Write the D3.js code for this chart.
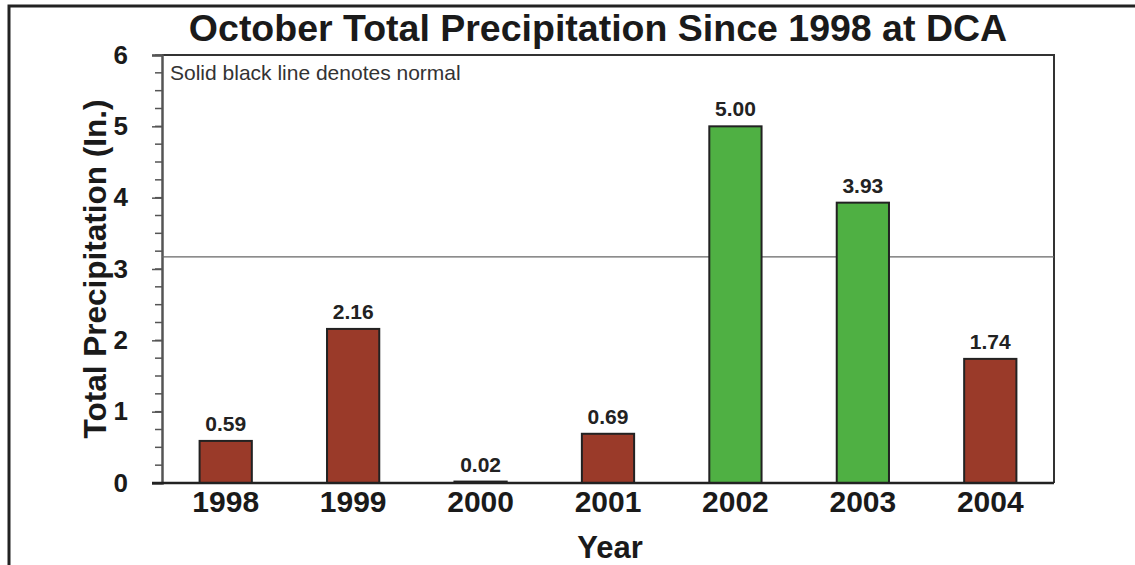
<!DOCTYPE html>
<html><head><meta charset="utf-8">
<script src="https://cdn.jsdelivr.net/npm/d3@7"></script>
<style>body{margin:0;background:#fff}svg{display:block}text{font-family:"Liberation Sans",Arial,sans-serif}</style>
</head><body><svg id="c" width="1135" height="565"></svg>
<script>
const years = ["1998","1999","2000","2001","2002","2003","2004"];
const precip = [0.59, 2.16, 0.02, 0.69, 5.00, 3.93, 1.74];
const normal = 3.17;
const yTicks = [0,1,2,3,4,5,6];
const title = "October Total Precipitation Since 1998 at DCA";
const note = "Solid black line denotes normal";

const svg = d3.select("#c");
const m = {l:162, r:1054, t:55, b:483};
const x = d3.scaleBand().domain(years).range([m.l,m.r]).paddingInner(0.59).paddingOuter(0.295);
const y = d3.scaleLinear().domain([0,6]).range([m.b,m.t]);

// outer frame
svg.append("path").attr("d","M9,565 L9,6 L1135,6").attr("fill","none").attr("stroke","#222").attr("stroke-width",3);

svg.append("text").attr("x",598).attr("y",41).attr("text-anchor","middle")
  .attr("font-size",37.5).attr("font-weight","bold").attr("fill","#1a1a1a").text(title);

// plot frame
svg.append("path").attr("d",`M${m.l},${m.t} L${m.r},${m.t} L${m.r},${m.b}`).attr("fill","none").attr("stroke","#333").attr("stroke-width",2);

// minor ticks
const minor = d3.range(0,6.01,0.25);
svg.append("g").selectAll("line").data(minor).join("line")
  .attr("x1",m.l-7).attr("x2",m.l).attr("y1",d=>y(d)).attr("y2",d=>y(d)).attr("stroke","#555").attr("stroke-width",1.5);
const yAxis = d3.axisLeft(y).tickValues(yTicks).tickFormat(d3.format("d")).tickSize(10).tickPadding(24);
const ga = svg.append("g").attr("transform",`translate(${m.l},0)`).call(yAxis);
ga.select(".domain").attr("stroke","#555").attr("stroke-width",2.5);
ga.selectAll(".tick line").attr("stroke","#555").attr("stroke-width",1.5);
ga.selectAll(".tick text").attr("font-size",26).attr("font-weight","bold").attr("fill","#1a1a1a").attr("font-family","Liberation Sans, Arial, sans-serif");

svg.append("text").attr("x",170).attr("y",80).attr("font-size",21).attr("fill","#333").text(note);

// normal line
svg.append("line").attr("x1",m.l).attr("x2",m.r).attr("y1",y(normal)).attr("y2",y(normal)).attr("stroke","#666").attr("stroke-width",1.2);

// bars
svg.append("g").selectAll("rect").data(years).join("rect")
  .attr("x",d=>x(d)).attr("width",x.bandwidth())
  .attr("y",(d,i)=>y(precip[i])).attr("height",(d,i)=>y(0)-y(precip[i]))
  .attr("fill",(d,i)=>precip[i]>normal?"#4fb043":"#9a3a29")
  .attr("stroke","#222").attr("stroke-width",2);

svg.append("g").selectAll("text").data(years).join("text")
  .attr("x",d=>x(d)+x.bandwidth()/2).attr("y",(d,i)=>y(precip[i])-10)
  .attr("text-anchor","middle").attr("font-size",21).attr("font-weight","bold").attr("fill","#222")
  .text((d,i)=>precip[i].toFixed(2));

// x axis
const xAxis = d3.axisBottom(x).tickSize(0).tickPadding(8);
const gx = svg.append("g").attr("transform",`translate(0,${m.b})`).call(xAxis);
gx.select(".domain").remove();
gx.selectAll(".tick text").attr("font-size",30).attr("font-weight","bold").attr("fill","#1a1a1a").attr("font-family","Liberation Sans, Arial, sans-serif");
svg.append("line").attr("x1",m.l-10).attr("x2",m.r).attr("y1",m.b).attr("y2",m.b).attr("stroke","#222").attr("stroke-width",2.5);

svg.append("text").attr("x",610).attr("y",558).attr("text-anchor","middle").attr("font-size",31).attr("font-weight","bold").attr("fill","#1a1a1a").text("Year");
svg.append("text").attr("transform","translate(106,269) rotate(-90)").attr("text-anchor","middle").attr("font-size",31.5).attr("font-weight","bold").attr("fill","#1a1a1a").text("Total Precipitation (In.)");
</script></body></html>
